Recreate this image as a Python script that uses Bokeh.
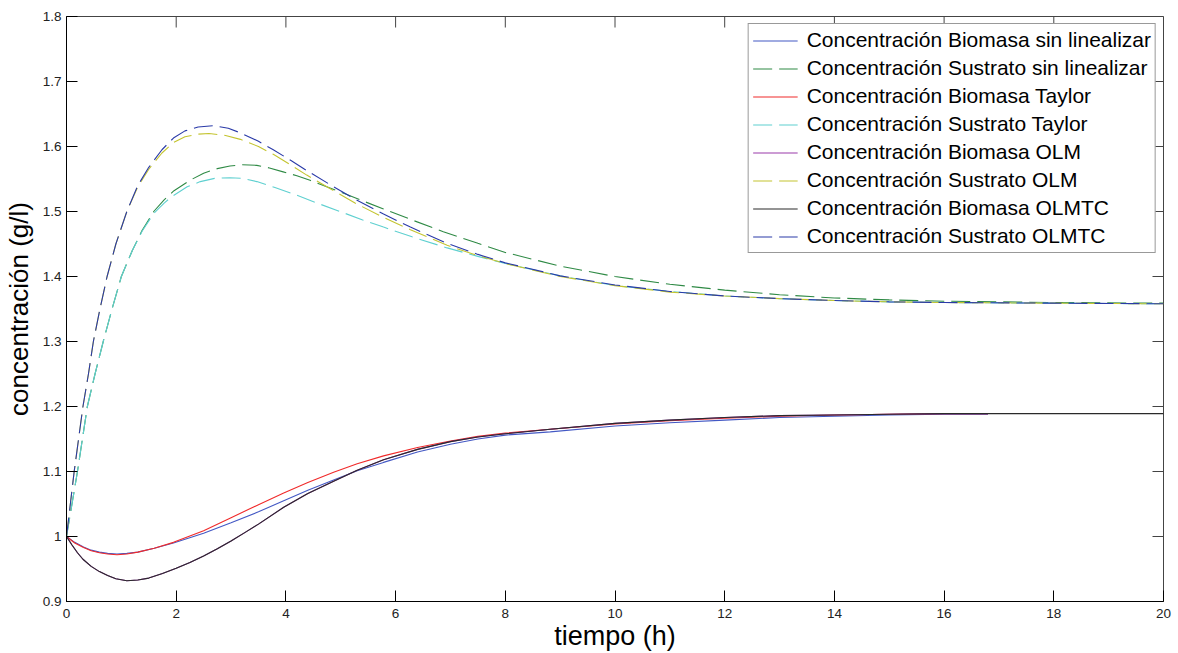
import math
from bokeh.plotting import figure
from bokeh.models import (Range1d, FixedTicker, CustomJSTickFormatter, Legend, LegendItem)
from bokeh.embed import file_html
from bokeh.resources import INLINE

# ---------------- data ----------------
# Sustrato OLMTC (blue dashed)
t_s_olmtc = [0, 0.07, 0.14, 0.22, 0.3, 0.4, 0.49, 0.61, 0.74, 0.9, 1.1, 1.3, 1.5, 1.74, 1.95,
             2.16, 2.4, 2.68, 2.95, 3.17, 3.5, 3.77, 4.1, 4.38, 4.87, 5.26, 5.78, 6.27, 6.94,
             7.5, 8, 9, 10, 11, 12, 13, 14, 15, 16, 18, 20]
s_olmtc = [1.0, 1.05, 1.1, 1.15, 1.2, 1.25, 1.3, 1.35, 1.4, 1.45, 1.5, 1.54, 1.568, 1.595, 1.613,
           1.624, 1.630, 1.632, 1.628, 1.621, 1.608, 1.595, 1.578, 1.563, 1.538, 1.519, 1.496,
           1.476, 1.451, 1.434, 1.421, 1.401, 1.387, 1.377, 1.370, 1.366, 1.363, 1.361, 1.360,
           1.359, 1.358]

# Sustrato OLM (yellow dashed)
t_s_olm = [0, 0.07, 0.14, 0.22, 0.3, 0.4, 0.49, 0.61, 0.74, 0.9, 1.1, 1.3, 1.5, 1.74, 1.95,
           2.16, 2.4, 2.6, 2.9, 3.17, 3.5, 3.77, 4.1, 4.38, 4.87, 5.26, 5.78, 6.27, 6.94,
           7.5, 8, 9, 10, 11, 12, 13, 14, 15, 16, 18, 20]
s_olm = [1.0, 1.05, 1.1, 1.15, 1.2, 1.25, 1.3, 1.35, 1.4, 1.45, 1.5, 1.538, 1.565, 1.590, 1.606,
         1.615, 1.619, 1.620, 1.617, 1.611, 1.600, 1.588, 1.571, 1.556, 1.532, 1.513, 1.491,
         1.472, 1.448, 1.432, 1.420, 1.400, 1.386, 1.376, 1.370, 1.366, 1.363, 1.361, 1.360,
         1.359, 1.358]

# Sustrato sin linealizar (green dashed)
t_s_nl = [0, 0.1, 0.2, 0.29, 0.38, 0.52, 0.67, 0.83, 1.0, 1.2, 1.38, 1.59, 1.78, 1.96, 2.25,
          2.5, 2.75, 2.98, 3.2, 3.47, 3.7, 3.95, 4.2, 4.44, 4.93, 5.41, 5.78, 6.33, 6.87, 7.5,
          8, 9, 10, 11, 12, 13, 14, 15, 16, 18, 20]
s_nl = [1.0, 1.05, 1.1, 1.15, 1.2, 1.25, 1.3, 1.35, 1.4, 1.44, 1.471, 1.5, 1.518, 1.532, 1.548,
        1.559, 1.566, 1.570, 1.572, 1.571, 1.567, 1.561, 1.555, 1.548, 1.532, 1.516, 1.504,
        1.486, 1.469, 1.451, 1.437, 1.416, 1.400, 1.388, 1.379, 1.372, 1.367, 1.364, 1.362,
        1.360, 1.359]

# Sustrato Taylor (cyan dashed)
t_s_tay = [0, 0.1, 0.2, 0.29, 0.38, 0.52, 0.67, 0.83, 1.0, 1.2, 1.38, 1.59, 1.78, 1.92, 2.2,
           2.44, 2.7, 2.98, 3.2, 3.47, 3.8, 4.2, 4.6, 5.05, 5.4, 5.78, 6.3, 6.94, 7.5, 8, 9,
           10, 11, 12, 13, 14, 15, 16, 18, 20]
s_tay = [1.0, 1.05, 1.1, 1.15, 1.2, 1.25, 1.3, 1.35, 1.4, 1.44, 1.47, 1.497, 1.513, 1.523, 1.538,
         1.546, 1.551, 1.552, 1.551, 1.546, 1.537, 1.525, 1.512, 1.498, 1.487, 1.476, 1.461,
         1.444, 1.431, 1.420, 1.401, 1.386, 1.377, 1.370, 1.366, 1.363, 1.361, 1.360, 1.359, 1.358]

# Biomasa sin linealizar (blue)
t_b_nl = [0, 0.15, 0.31, 0.45, 0.6, 0.75, 0.92, 1.1, 1.3, 1.6, 1.95, 2.5, 3.0, 3.5, 3.96, 4.4,
          4.87, 5.3, 5.78, 6.4, 7.0, 7.5, 8.0, 8.82, 10, 11, 12, 13, 14, 15, 16, 16.8]
b_nl = [1.0, 0.991, 0.984, 0.979, 0.976, 0.974, 0.973, 0.974, 0.976, 0.982, 0.990, 1.005, 1.021,
        1.038, 1.055, 1.071, 1.087, 1.101, 1.114, 1.130, 1.142, 1.150, 1.156, 1.161, 1.170,
        1.175, 1.179, 1.183, 1.185, 1.187, 1.188, 1.188]

# Biomasa Taylor (red)
t_b_tay = [0, 0.15, 0.31, 0.45, 0.6, 0.75, 0.92, 1.1, 1.3, 1.6, 1.95, 2.5, 3.0, 3.5, 3.96, 4.4,
           4.87, 5.3, 5.78, 6.4, 7.0, 7.5, 8.0, 8.82, 10, 11, 12, 13, 14, 15, 16, 16.8]
b_tay = [1.0, 0.990, 0.983, 0.978, 0.975, 0.973, 0.972, 0.973, 0.976, 0.982, 0.991, 1.009, 1.029,
         1.049, 1.067, 1.083, 1.099, 1.112, 1.124, 1.137, 1.147, 1.154, 1.159, 1.165, 1.173,
         1.178, 1.182, 1.185, 1.187, 1.188, 1.189, 1.189]

# Biomasa OLM (purple)
t_b_olm = [0, 0.1, 0.2, 0.3, 0.45, 0.6, 0.75, 0.9, 1.1, 1.3, 1.5, 1.75, 2.0, 2.25, 2.5, 2.75,
           3.0, 3.25, 3.5, 3.96, 4.4, 4.87, 5.3, 5.78, 6.4, 7.0, 7.5, 8.0, 8.82, 10, 11, 12,
           13, 14, 15, 16, 16.8]
b_olm = [1.0, 0.987, 0.975, 0.965, 0.954, 0.946, 0.940, 0.935, 0.932, 0.933, 0.936, 0.943, 0.951,
         0.960, 0.970, 0.981, 0.993, 1.006, 1.019, 1.045, 1.066, 1.085, 1.102, 1.118, 1.134,
         1.146, 1.153, 1.158, 1.165, 1.174, 1.179, 1.183, 1.186, 1.187, 1.188, 1.189, 1.189]

# Biomasa OLMTC (black)
t_b_olmtc = [0, 0.1, 0.2, 0.3, 0.45, 0.6, 0.75, 0.9, 1.1, 1.3, 1.5, 1.75, 2.0, 2.25, 2.5, 2.75,
             3.0, 3.25, 3.5, 3.96, 4.4, 4.87, 5.3, 5.78, 6.4, 7.0, 7.5, 8.0, 8.82, 10, 11, 12,
             13, 14, 15, 16, 18, 20]
b_olmtc = [1.0, 0.987, 0.975, 0.965, 0.954, 0.946, 0.940, 0.935, 0.932, 0.933, 0.936, 0.943, 0.951,
           0.960, 0.970, 0.981, 0.993, 1.006, 1.019, 1.045, 1.066, 1.085, 1.102, 1.118, 1.134,
           1.146, 1.153, 1.158, 1.165, 1.174, 1.179, 1.183, 1.186, 1.187, 1.188, 1.189, 1.189, 1.189]

x_ticks = [0, 2, 4, 6, 8, 10, 12, 14, 16, 18, 20]
y_ticks = [0.9, 1.0, 1.1, 1.2, 1.3, 1.4, 1.5, 1.6, 1.7, 1.8]
y_tick_labels = ["0.9", "1", "1.1", "1.2", "1.3", "1.4", "1.5", "1.6", "1.7", "1.8"]

labels = ["Concentración Biomasa sin linealizar", "Concentración Sustrato sin linealizar",
          "Concentración Biomasa Taylor", "Concentración Sustrato Taylor",
          "Concentración Biomasa OLM", "Concentración Sustrato OLM",
          "Concentración Biomasa OLMTC", "Concentración Sustrato OLMTC"]

FONT = "Liberation Sans"

p = figure(width=1178, height=653, output_backend="svg", toolbar_location=None,
           x_range=Range1d(x_ticks[0], x_ticks[-1]), y_range=Range1d(y_ticks[0], y_ticks[-1]),
           min_border_left=66, min_border_right=15, min_border_top=16, min_border_bottom=52,
           background_fill_color="white", border_fill_color="white")
p.grid.visible = False
p.outline_line_color = "#444444"

series = [
    (t_b_nl, b_nl, "#4358c4", None),
    (t_s_nl, s_nl, "#2f8a45", "19 7"),
    (t_b_tay, b_tay, "#f02a2a", None),
    (t_s_tay, s_tay, "#5fd0d0", "19 7"),
    (t_b_olm, b_olm, "#9a3aaa", None),
    (t_s_olm, s_olm, "#c4c430", "19 7"),
    (t_b_olmtc, b_olmtc, "#2a2a2a", None),
    (t_s_olmtc, s_olmtc, "#2a3aa8", "19 7"),
]

items = []
for (tx, ty, col, dash), lab in zip(series, labels):
    kw = dict(line_color=col, line_width=1.1)
    if dash:
        kw["line_dash"] = dash
    r = p.line(tx, ty, **kw)
    items.append(LegendItem(label=lab, renderers=[r]))

# inward tick marks on the top and right edges of the box (MATLAB "box on")
p.ray(x=x_ticks, y=[y_ticks[-1]] * len(x_ticks), length=11, length_units="screen",
      angle=-math.pi / 2, line_color="#444444", line_width=1)
p.ray(x=[x_ticks[-1]] * len(y_ticks), y=y_ticks, length=11, length_units="screen",
      angle=math.pi, line_color="#444444", line_width=1)

fmt = CustomJSTickFormatter(args=dict(yt=y_ticks, yl=y_tick_labels), code="""
let best = 0;
for (let i = 0; i < yt.length; i++) {
  if (Math.abs(yt[i] - tick) < Math.abs(yt[best] - tick)) best = i;
}
return yl[best];
""")

def style_axis(ax):
    ax.major_tick_in = 11
    ax.major_tick_out = 0
    ax.minor_tick_line_color = None
    ax.axis_line_color = "black"
    ax.major_tick_line_color = "black"
    ax.major_label_text_font = FONT
    ax.major_label_text_color = "#222222"
    ax.major_label_text_font_size = "13.5px"

xa = p.xaxis[0]
xa.ticker = FixedTicker(ticks=x_ticks)
style_axis(xa)
xa.major_label_standoff = 7
xa.axis_label = "tiempo (h)"
xa.axis_label_text_font = FONT
xa.axis_label_text_font_size = "27px"
xa.axis_label_text_font_style = "normal"
xa.axis_label_text_color = "black"
xa.axis_label_standoff = 0

ya = p.yaxis[0]
ya.ticker = FixedTicker(ticks=y_ticks)
ya.formatter = fmt
style_axis(ya)
ya.major_label_standoff = 5
ya.axis_label = "concentración (g/l)"
ya.axis_label_text_font = FONT
ya.axis_label_text_font_size = "26px"
ya.axis_label_text_font_style = "normal"
ya.axis_label_text_color = "black"
ya.axis_label_standoff = 6

legend = Legend(items=items, location="top_right", margin=7,
                label_text_font=FONT, label_text_font_size="21px", label_text_color="black",
                glyph_width=45, glyph_height=21, label_height=21, label_standoff=9,
                spacing=4, padding=4,
                border_line_color="#333333", border_line_width=1,
                background_fill_color="white", background_fill_alpha=1.0)
p.add_layout(legend)

open("out.html", "w").write(file_html(p, INLINE))
